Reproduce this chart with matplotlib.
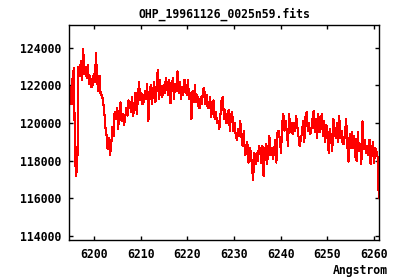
import numpy as np
import matplotlib
matplotlib.use("Agg")
import matplotlib.pyplot as plt

title = "OHP_19961126_0025n59.fits"
xlabel = "Angstrom"
wl_start = 6194.6
wl_end = 6261.1
flux = [
    121200, 121900, 121000, 122600,
    122900, 118100, 117200, 118000,
    123000, 122500, 123300, 122300,
    123950, 122600, 123000, 122400,
    123100, 122100, 122500, 121900,
    122000, 122600, 122200, 123700,
    122200, 121700, 122500, 121500,
    121500, 121200, 120700, 119800,
    119400, 118600, 119200, 118300,
    118700, 119800, 119300, 120600,
    120200, 120800, 119700, 120500,
    121100, 120100, 120500, 119900,
    120200, 120800, 120400, 121200,
    121100, 120600, 121400, 120400,
    121000, 121600, 120500, 121300,
    122200, 121200, 121600, 121000,
    121100, 121700, 121300, 122100,
    120100, 121600, 122000, 121000,
    121600, 122200, 121100, 121900,
    122800, 121300, 122300, 121500,
    121400, 122000, 121600, 122400,
    122000, 121500, 122300, 121050,
    121800, 122400, 121300, 122100,
    121700, 122750, 121600, 122200,
    121300, 121900, 121500, 122300,
    122000, 121500, 122300, 121300,
    121600, 120200, 121700, 121100,
    122000, 121100, 121500, 120900,
    120800, 121400, 121000, 121800,
    121850, 121000, 121500, 120800,
    120800, 121400, 120300, 121100,
    121200, 120200, 120600, 120000,
    120100, 119700, 120500, 121300,
    121400, 120200, 120700, 120000,
    120100, 120700, 119600, 120400,
    120600, 119600, 120000, 119400,
    119100, 119700, 119300, 120100,
    119300, 118800, 119600, 118300,
    118400, 119000, 117900, 118700,
    118500, 117700, 116950, 118400,
    117800, 118400, 118000, 118800,
    118600, 117900, 118800, 117200,
    118300, 118900, 117800, 118600,
    119300, 118300, 118700, 118100,
    118500, 119100, 117900, 119500,
    119600, 119100, 118400, 120000,
    120500, 119600, 120100, 119500,
    118800, 120500, 119500, 120000,
    119400, 120000, 119600, 120400,
    119800, 119300, 118800, 119100,
    119500, 120100, 119000, 120300,
    120600, 119600, 120000, 119400,
    119600, 120200, 120650, 119500,
    120200, 119200, 120500, 119500,
    119800, 120500, 119300, 120100,
    119000, 119900, 119500, 118400,
    119700, 119200, 118500, 120200,
    119700, 119200, 120000, 119000,
    120400, 119200, 119600, 118900,
    118900, 119500, 120200, 118800,
    117950, 119400, 118700, 119500,
    118700, 119300, 118200, 118000,
    119500, 118500, 118900, 117800,
    120100, 118600, 119100, 118400,
    118800, 118300, 119100, 117800,
    118400, 119000, 117900, 118700,
    118500, 118200, 116050,
]
wavelength = np.linspace(wl_start, wl_end, len(flux))
xticks = [6200, 6210, 6220, 6230, 6240, 6250, 6260]
yticks = [114000, 116000, 118000, 120000, 122000, 124000]

font = dict(family="DejaVu Sans Mono", weight="bold", size=8.3)

fig = plt.figure(figsize=(4, 2.8), dpi=100)
ax = fig.add_axes([0.1725, 0.1429, 0.775, 0.7679])
ax.plot(wavelength, flux, color="#ff0000", lw=0.8, antialiased=False)
ax.set_xlim(6194.55, 6261.15)
ax.set_ylim(113790, 125210)
ax.set_xticks(xticks)
ax.set_yticks(yticks)
ax.set_xticklabels([str(t) for t in xticks], fontdict=font)
ax.set_yticklabels([str(t) for t in yticks], fontdict=font)
ax.tick_params(direction="in", length=3, width=1, top=True, right=True,
               color="black")
ax.tick_params(axis="x", pad=5.5)
ax.tick_params(axis="y", pad=5.5)
for s in ax.spines.values():
    s.set_linewidth(1)
    s.set_color("black")
fig.text(0.56, 0.95, title, ha="center", va="center", **font)
fig.text(0.969, 0.033, xlabel, ha="right", va="center", **font)
fig.savefig("out.png", dpi=100)
